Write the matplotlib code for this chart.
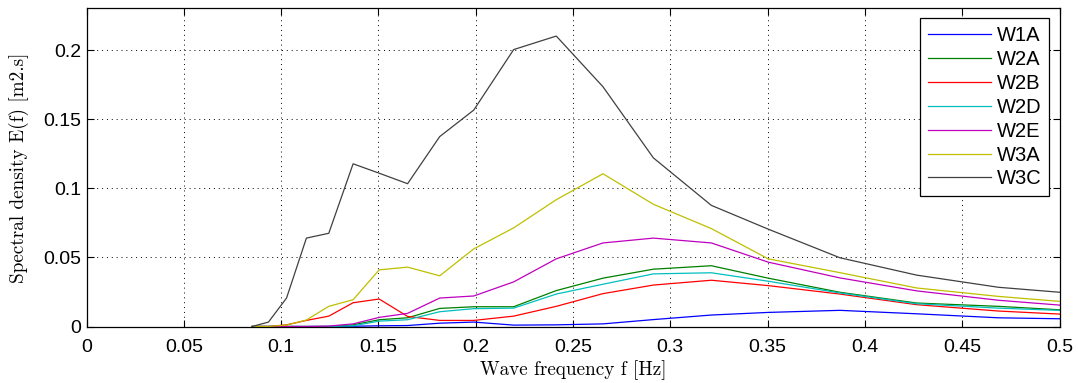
import matplotlib
matplotlib.use("Agg")
import matplotlib.pyplot as plt

freq = [0.0851, 0.0935, 0.1028, 0.1130, 0.1245, 0.1370, 0.1504, 0.1650, 0.1815, 0.1990,
        0.2195, 0.2414, 0.2654, 0.2913, 0.3211, 0.3503, 0.3871, 0.4266, 0.4686, 0.5000]

W1A = [0, 0, 0, 0, 0, 0.0002, 0.0005, 0.0007, 0.0024, 0.0032,
       0.0010, 0.0012, 0.0019, 0.0050, 0.0083, 0.0102, 0.0117, 0.0092, 0.0063, 0.0056]
W2A = [0, 0, 0, 0, 0, 0.0012, 0.0049, 0.0063, 0.0131, 0.0143,
       0.0143, 0.0260, 0.0350, 0.0415, 0.0440, 0.0350, 0.0248, 0.0170, 0.0146, 0.0121]
W2B = [0, 0, 0.0012, 0.0044, 0.0075, 0.0172, 0.0199, 0.0073, 0.0044, 0.0044,
       0.0075, 0.0146, 0.0238, 0.0300, 0.0335, 0.0296, 0.0235, 0.0158, 0.0112, 0.0090]
W2D = [0, 0, 0, 0, 0, 0.0005, 0.0039, 0.0049, 0.0107, 0.0129,
       0.0133, 0.0235, 0.0306, 0.0381, 0.0389, 0.0328, 0.0243, 0.0165, 0.0133, 0.0117]
W2E = [0, 0, 0, 0, 0.0003, 0.0019, 0.0066, 0.0095, 0.0206, 0.0221,
       0.0323, 0.0490, 0.0605, 0.0640, 0.0605, 0.0466, 0.0352, 0.0258, 0.0190, 0.0155]
W3A = [0, 0, 0.0010, 0.0047, 0.0146, 0.0194, 0.0410, 0.0430, 0.0367, 0.0562,
       0.0714, 0.0918, 0.1106, 0.0885, 0.0709, 0.0490, 0.0390, 0.0279, 0.0218, 0.0182]
W3C = [0, 0.0032, 0.0206, 0.0640, 0.0675, 0.1178, 0.1110, 0.1034, 0.1375, 0.1567,
       0.2005, 0.2103, 0.1736, 0.1221, 0.0877, 0.0705, 0.0498, 0.0372, 0.0284, 0.0248]

names = ["W1A", "W2A", "W2B", "W2D", "W2E", "W3A", "W3C"]
series = [W1A, W2A, W2B, W2D, W2E, W3A, W3C]
colors = [(0, 0, 1), (0, 0.5, 0), (1, 0, 0), (0, 0.75, 0.75),
          (0.75, 0, 0.75), (0.75, 0.75, 0), (0.25, 0.25, 0.25)]

xticks = [0, 0.05, 0.1, 0.15, 0.2, 0.25, 0.3, 0.35, 0.4, 0.45, 0.5]
xticklabels = ["0", "0.05", "0.1", "0.15", "0.2", "0.25", "0.3", "0.35", "0.4", "0.45", "0.5"]
yticks = [0, 0.05, 0.1, 0.15, 0.2]
yticklabels = ["0", "0.05", "0.1", "0.15", "0.2"]

plt.rcParams['font.family'] = ['Liberation Sans', 'DejaVu Sans']

fig = plt.figure(figsize=(10.78, 3.83), dpi=100)
ax = fig.add_axes([86.5 / 1078, 1 - 326.5 / 383, (1059.5 - 86.5) / 1078, (326.5 - 8.3) / 383])

for name, vals, col in zip(names, series, colors):
    ax.plot(freq, vals, color=col, lw=0.9, label=name)

ax.set_xlim(0, 0.5)
ax.set_ylim(0, 0.2304)
ax.set_xticks(xticks)
ax.set_xticklabels(xticklabels)
ax.set_yticks(yticks)
ax.set_yticklabels(yticklabels)
ax.tick_params(direction='in', top=True, right=True, labelsize=14, length=5, width=0.8)
ax.tick_params(axis='x', pad=9)
ax.tick_params(axis='y', pad=4)
ax.grid(True, color='black', linestyle=(0, (1, 4)), linewidth=0.7)
for s in ax.spines.values():
    s.set_linewidth(0.9)

ax.set_xlabel("Wave frequency f [Hz]", family='cmr10', fontsize=13.8, labelpad=3)
ax.set_ylabel("Spectral density E(f) [m2.s]", family='cmr10', fontsize=13.8, labelpad=10)

leg = ax.legend(loc='upper right', fontsize=14.5, handlelength=3.1, labelspacing=0.24,
                borderaxespad=0.5, fancybox=False, edgecolor='black', framealpha=1,
                handletextpad=0.3, borderpad=0.4)
leg.get_frame().set_linewidth(0.9)

fig.savefig("out.png", dpi=100)
